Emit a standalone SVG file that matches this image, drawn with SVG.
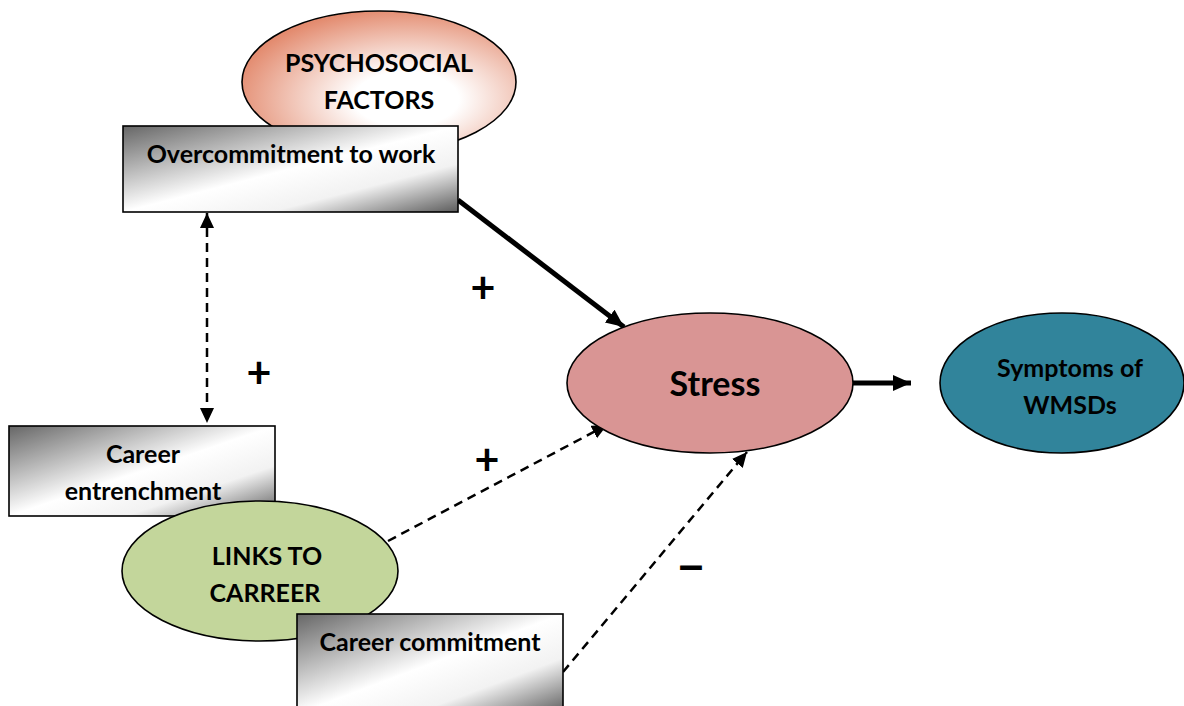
<svg xmlns="http://www.w3.org/2000/svg" width="1184" height="706" viewBox="0 0 1184 706">
  <defs>
    <style>
      .lbl { font-family: "Lato", "Liberation Sans", sans-serif; font-weight: 700; fill: #000; text-anchor: middle; }
      .t { font-size: 25px; }
      .sign { font-size: 43px; }
      .minus { font-family: "Liberation Sans", sans-serif; font-size: 44px; }
      .edge { stroke: #000; stroke-width: 1.6; }
      .solid { stroke: #000; stroke-width: 5; fill: none; }
      .dash { stroke: #000; stroke-width: 2.5; fill: none; stroke-dasharray: 9 6; }
    </style>
    <linearGradient id="metal" x1="0" y1="0" x2="1" y2="1">
      <stop offset="0" stop-color="#666"/>
      <stop offset="0.5" stop-color="#fff"/>
      <stop offset="0.72" stop-color="#f2f2f2"/>
      <stop offset="1" stop-color="#5c5c5c"/>
    </linearGradient>
    <radialGradient id="peach" cx="0.6" cy="0.62" r="0.64">
      <stop offset="0.3" stop-color="#fff"/>
      <stop offset="1" stop-color="#e38b6f"/>
    </radialGradient>
    <marker id="headBig" markerUnits="userSpaceOnUse" markerWidth="20" markerHeight="18" refX="18" refY="8" orient="auto">
      <path d="M0,0 L18,8 L0,16 Z" fill="#000"/>
    </marker>
    <marker id="headSmall" markerUnits="userSpaceOnUse" markerWidth="17" markerHeight="15" refX="15" refY="7" orient="auto">
      <path d="M0,0 L15,7 L0,14 Z" fill="#000"/>
    </marker>
    <marker id="tailSmall" markerUnits="userSpaceOnUse" markerWidth="17" markerHeight="15" refX="0" refY="7" orient="auto">
      <path d="M15,0 L0,7 L15,14 Z" fill="#000"/>
    </marker>
  </defs>

  <rect width="1184" height="706" fill="#fff"/>

  <!-- connectors -->
  <g id="connectors">
    <line class="dash" x1="207" y1="213" x2="207" y2="423" marker-start="url(#tailSmall)" marker-end="url(#headSmall)"/>
    <line class="solid" x1="458" y1="200" x2="624" y2="327" marker-end="url(#headBig)"/>
    <line class="dash" x1="388" y1="541" x2="607" y2="425" marker-end="url(#headSmall)"/>
    <line class="dash" x1="563" y1="672" x2="747" y2="452" marker-end="url(#headSmall)"/>
    <line class="solid" x1="853" y1="383" x2="911" y2="383" marker-end="url(#headBig)"/>
  </g>

  <!-- relation signs -->
  <g id="signs">
    <text class="lbl sign" x="483" y="303">+</text>
    <text class="lbl sign" x="259" y="388">+</text>
    <text class="lbl sign" x="487" y="475">+</text>
    <text class="lbl minus" x="691" y="580">–</text>
  </g>

  <g id="psychosocial">
    <ellipse class="edge" cx="379" cy="82" rx="137" ry="71" fill="url(#peach)"/>
    <text class="lbl t" x="379" y="72">PSYCHOSOCIAL</text>
    <text class="lbl t" x="379" y="109">FACTORS</text>
  </g>

  <g id="overcommitment">
    <rect class="edge" x="123" y="126" width="335" height="86" fill="url(#metal)"/>
    <text class="lbl t" x="291" y="163">Overcommitment to work</text>
  </g>

  <g id="entrenchment">
    <rect class="edge" x="9" y="426" width="266" height="90" fill="url(#metal)"/>
    <text class="lbl t" x="143" y="463">Career</text>
    <text class="lbl t" x="143" y="500">entrenchment</text>
  </g>

  <g id="links">
    <ellipse class="edge" cx="260" cy="571" rx="138" ry="70" fill="#c3d69b"/>
    <text class="lbl t" x="267" y="565">LINKS TO</text>
    <text class="lbl t" x="265" y="602">CARREER</text>
  </g>

  <g id="commitment">
    <rect class="edge" x="297" y="614" width="266" height="100" fill="url(#metal)"/>
    <text class="lbl t" x="430" y="651">Career commitment</text>
  </g>

  <g id="stress">
    <ellipse class="edge" cx="710" cy="383" rx="143" ry="70" fill="#d99594"/>
    <text class="lbl" x="715" y="396" font-size="34">Stress</text>
  </g>

  <g id="symptoms">
    <ellipse class="edge" cx="1062" cy="383" rx="122" ry="70" fill="#31849b"/>
    <text class="lbl t" x="1070" y="377">Symptoms of</text>
    <text class="lbl t" x="1070" y="414">WMSDs</text>
  </g>
</svg>
